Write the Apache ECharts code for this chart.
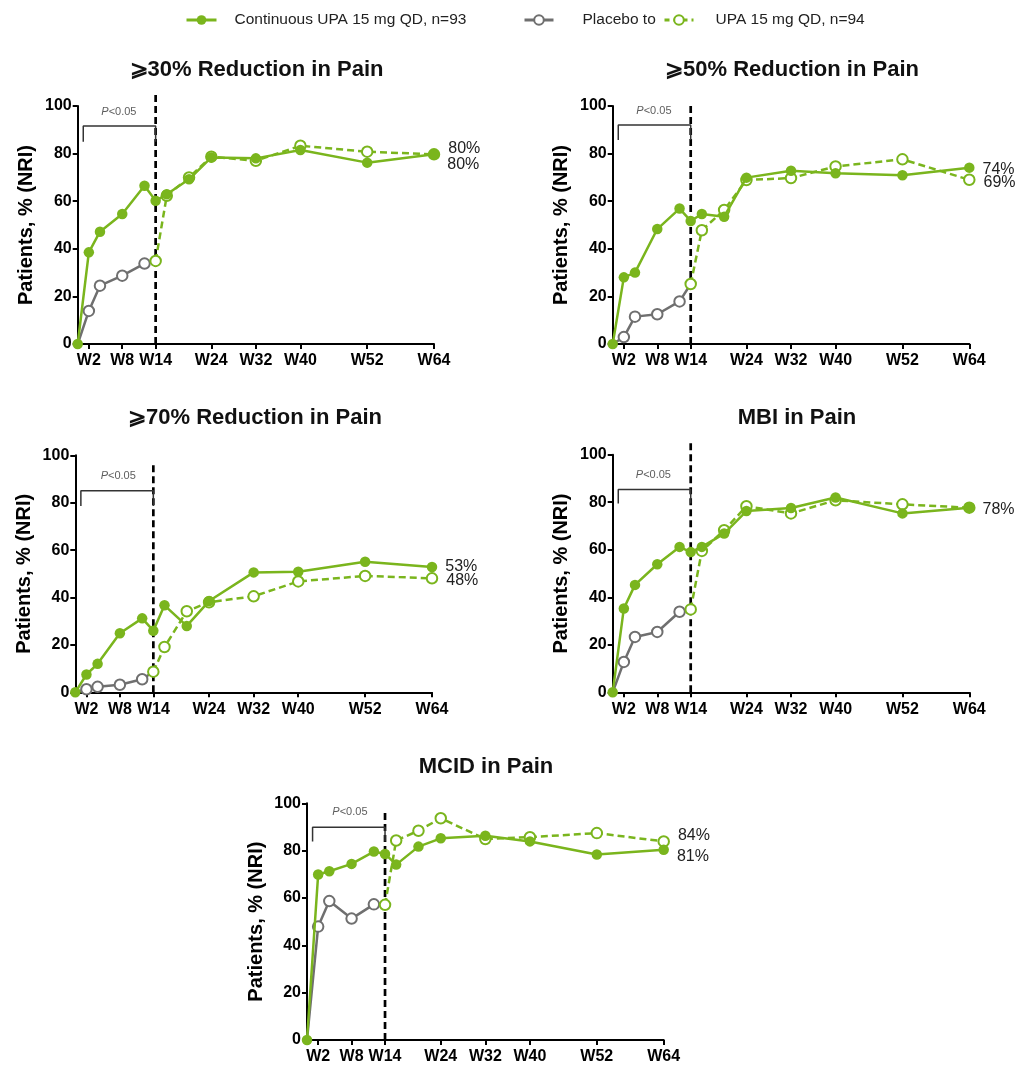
<!DOCTYPE html>
<html><head><meta charset="utf-8">
<script src="https://cdn.jsdelivr.net/npm/echarts@6/dist/echarts.min.js"></script>
<style>html,body{margin:0;padding:0;background:#fff}#c{width:1017px;height:1065px}</style>
</head><body><div id="c"></div>
<script>
// ---------- data ----------
const panelTitles = ['⩾30% Reduction in Pain', '⩾50% Reduction in Pain', '⩾70% Reduction in Pain', 'MBI in Pain', 'MCID in Pain'];
const xTickWeeks = [2, 8, 14, 24, 32, 40, 52, 64];
const weeksCont = [0, 2, 4, 8, 12, 14, 16, 20, 24, 32, 40, 52, 64];
const weeksPbo = [0, 2, 4, 8, 12, 14];
const weeksSwitch = [14, 16, 20, 24, 32, 40, 52, 64];
const seriesNames = ['Continuous UPA 15 mg QD, n=93', 'Placebo to', 'UPA 15 mg QD, n=94'];

const cont30 = [0, 38.5, 47.2, 54.6, 66.5, 60.2, 62.9, 69.2, 78.4, 78.0, 81.5, 76.2, 79.7];
const pbo30 = [0, 13.9, 24.5, 28.7, 33.8, 34.9];
const switch30 = [34.9, 62.3, 70.0, 78.7, 77.0, 83.3, 80.8, 79.7];

const cont50 = [0, 28.0, 30.0, 48.3, 56.9, 51.7, 54.6, 53.5, 69.9, 72.8, 71.7, 70.9, 74.1];
const pbo50 = [0, 2.9, 11.5, 12.5, 17.9, 25.2];
const switch50 = [25.2, 47.8, 56.3, 68.9, 69.7, 74.6, 77.6, 69.0];

const cont70 = [0, 7.5, 12.0, 24.9, 31.2, 26.0, 36.7, 28.0, 38.5, 50.6, 50.9, 55.1, 52.9];
const pbo70 = [0, 1.3, 2.3, 3.2, 5.5, 8.7];
const switch70 = [8.7, 19.1, 34.2, 38.0, 40.5, 46.8, 49.1, 48.1];

const contMBI = [0, 35.3, 45.2, 53.9, 61.2, 59.0, 61.2, 66.8, 76.3, 77.6, 82.0, 75.3, 77.7];
const pboMBI = [0, 12.8, 23.3, 25.4, 33.9, 34.9];
const switchMBI = [34.9, 59.5, 68.2, 78.3, 75.3, 80.8, 79.1, 77.7];

const contMCID = [0, 69.9, 71.3, 74.4, 79.6, 78.6, 74.1, 81.7, 85.2, 86.3, 83.9, 78.4, 80.4];
const pboMCID = [0, 47.9, 58.7, 51.3, 57.3, 57.1];
const switchMCID = [57.1, 84.3, 88.4, 93.7, 84.9, 85.7, 87.4, 83.9];

const endLabelsCont = ['80%', '74%', '53%', '78%', '81%'];
const endLabelsSwitch = ['80%', '69%', '48%', '', '84%'];

// significance bracket: [left week, right week], top value, bottom value
const bracketWeeks = [1, 14];
const bracketTop = [91.6, 92.0, 85.0, 85.4, 89.9];
const bracketBottom = [85.0, 85.7, 78.6, 79.5, 83.9];
const pLabelPos = [[7.4, 97.6], [7.4, 98.0], [7.7, 91.3], [7.3, 91.5], [7.7, 96.5]];
const switchWeek = 14;
const dashTop = [104.6, 101.3, 96.9, 104.9, 97.2];

// ---------- layout ----------
const contData = [cont30, cont50, cont70, contMBI, contMCID];
const pboData = [pbo30, pbo50, pbo70, pboMBI, pboMCID];
const switchData = [switch30, switch50, switch70, switchMBI, switchMCID];

const grids = [
  {left: 77.7, top: 106, width: 356.3, height: 238},
  {left: 612.7, top: 106, width: 356.6, height: 238},
  {left: 75.3, top: 455.3, width: 356.7, height: 237},
  {left: 612.7, top: 454.7, width: 356.6, height: 237.6},
  {left: 307, top: 803.3, width: 356.7, height: 238}
];
const titlePos = [[256.5, 59], [792, 59], [255, 407], [797, 407], [486, 756]];
const endOffsetsCont = [[0, 10], [0, 1.5], [0, 0], [0, 1.5], [0, 7]];
const endOffsetsSwitch = [[0, -6], [0, 3], [0, 2], [0, 0], [0, -6]];

const GREEN = '#7ab51d';
const GRAY = '#6f6f6f';
const FONT = "'Liberation Sans', Arial, sans-serif";

const legendBase = {top: 12, padding: 0, itemWidth: 30, itemHeight: 12, lineStyle: {width: 3}};
const option = {
  backgroundColor: '#fff',
  animation: false,
  textStyle: {fontFamily: FONT},
  title: panelTitles.map((t, i) => ({
    text: t, left: titlePos[i][0], top: titlePos[i][1], textAlign: 'center', padding: 0,
    textStyle: {fontSize: 22, fontWeight: 'bold', color: '#111', fontFamily: FONT}
  })),
  legend: [
    Object.assign({}, legendBase, {left: 185, data: [seriesNames[0]],
     textStyle: {fontSize: 15.5, color: '#222', padding: [0, 0, 0, 13], fontFamily: FONT}}),
    Object.assign({}, legendBase, {left: 523, itemWidth: 29, data: [seriesNames[1]],
     textStyle: {fontSize: 15.5, color: '#222', padding: [0, 0, 0, 24], fontFamily: FONT}}),
    Object.assign({}, legendBase, {left: 663, itemWidth: 29, data: [seriesNames[2]],
     textStyle: {fontSize: 15.5, color: '#222', padding: [0, 0, 0, 17], fontFamily: FONT},
     lineStyle: {width: 3, type: [5, 4]}})
  ],
  grid: grids,
  xAxis: grids.map((g, i) => ({
    type: 'value', gridIndex: i, min: 0, max: 64,
    axisLine: {show: true, lineStyle: {color: '#000', width: 2}},
    axisTick: {show: true, customValues: xTickWeeks, length: 5, lineStyle: {color: '#000', width: 2}},
    axisLabel: {customValues: xTickWeeks, formatter: v => 'W' + v, fontWeight: 'bold', fontSize: 16, color: '#000', margin: 9, fontFamily: FONT},
    splitLine: {show: false}
  })),
  yAxis: grids.map((g, i) => ({
    type: 'value', gridIndex: i, min: 0, max: 100, interval: 20,
    name: 'Patients, % (NRI)', nameLocation: 'middle', nameGap: 41,
    nameTextStyle: {fontWeight: 'bold', fontSize: 20, color: '#000', fontFamily: FONT},
    axisLine: {show: true, lineStyle: {color: '#000', width: 2}},
    axisTick: {show: true, length: 5, lineStyle: {color: '#000', width: 2}},
    axisLabel: {fontWeight: 'bold', fontSize: 16, color: '#000', margin: 6, fontFamily: FONT},
    splitLine: {show: false}
  })),
  series: []
};

for (let i = 0; i < 5; i++) {
  // vertical dashed line at switch week
  option.series.push({
    type: 'line', name: 'switch', xAxisIndex: i, yAxisIndex: i, silent: true, clip: false,
    data: [[switchWeek, 0], [switchWeek, dashTop[i]]], symbol: 'none', z: 1,
    lineStyle: {color: '#000', width: 2.7, type: [7, 4]}
  });
  // bracket
  option.series.push({
    type: 'line', name: 'bracket', xAxisIndex: i, yAxisIndex: i, silent: true, clip: false,
    data: [[bracketWeeks[0], bracketBottom[i]], [bracketWeeks[0], bracketTop[i]],
           [bracketWeeks[1], bracketTop[i]], [bracketWeeks[1], bracketBottom[i]]],
    symbol: 'none', z: 1, lineStyle: {color: '#333', width: 1.5}
  });
  // P<0.05 label
  option.series.push({
    type: 'scatter', name: 'p', xAxisIndex: i, yAxisIndex: i, silent: true, clip: false,
    data: [pLabelPos[i]], symbolSize: 0,
    label: {show: true, position: 'inside', formatter: '{it|P}<0.05', fontSize: 11, color: '#333', fontFamily: FONT,
      rich: {it: {fontStyle: 'italic', fontSize: 11, color: '#333', fontFamily: FONT}}}
  });
  // placebo
  option.series.push({
    type: 'line', name: seriesNames[1], xAxisIndex: i, yAxisIndex: i, z: 2,
    data: weeksPbo.map((w, k) => (k === weeksPbo.length - 1 || k === 0) ? {value: [w, pboData[i][k]], symbol: 'none'} : [w, pboData[i][k]]),
    symbol: 'circle', symbolSize: 10.5,
    itemStyle: {color: '#fff', borderColor: GRAY, borderWidth: 2},
    lineStyle: {color: GRAY, width: 2.5}
  });
  // switched to UPA (dashed)
  const swData = weeksSwitch.map((w, k) => [w, switchData[i][k]]);
  const swLast = swData.length - 1;
  option.series.push({
    type: 'line', name: seriesNames[2], xAxisIndex: i, yAxisIndex: i, z: 3,
    data: swData.map((d, k) => (k === swLast && endLabelsSwitch[i]) ? {value: d,
      label: {show: true, position: 'right', distance: 8, offset: endOffsetsSwitch[i], formatter: endLabelsSwitch[i],
        fontSize: 16, color: '#222', fontFamily: FONT}} : d),
    symbol: 'circle', symbolSize: 10.5,
    itemStyle: {color: '#fff', borderColor: GREEN, borderWidth: 2},
    lineStyle: {color: GREEN, width: 2.5, type: [7, 4]}
  });
  // continuous UPA
  const cData = weeksCont.map((w, k) => [w, contData[i][k]]);
  const cLast = cData.length - 1;
  option.series.push({
    type: 'line', name: seriesNames[0], xAxisIndex: i, yAxisIndex: i, z: 4,
    data: cData.map((d, k) => k === cLast ? {value: d,
      label: {show: true, position: 'right', distance: 8, offset: endOffsetsCont[i], formatter: endLabelsCont[i],
        fontSize: 16, color: '#222', fontFamily: FONT}} : d),
    symbol: 'circle', symbolSize: 10.5,
    itemStyle: {color: GREEN},
    lineStyle: {color: GREEN, width: 2.5}
  });
}

const chart = echarts.init(document.getElementById('c'), null, {renderer: 'canvas'});
chart.setOption(option);
</script>
</body></html>
